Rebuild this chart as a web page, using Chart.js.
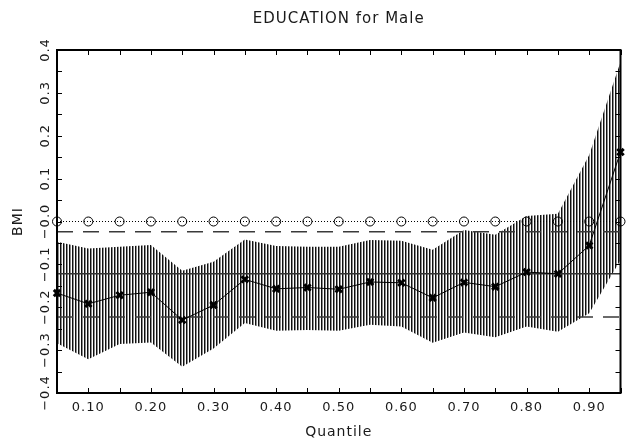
<!DOCTYPE html>
<html>
<head>
<meta charset="utf-8">
<script src="https://cdn.jsdelivr.net/npm/chart.js@4/dist/chart.umd.min.js"></script>
<style>
  html, body { margin: 0; padding: 0; background: #fff; }
  #wrap { width: 628px; height: 441px; }
</style>
</head>
<body>
<div id="wrap"><canvas id="qrChart"></canvas></div>
<script>
// quantiles and estimates
const quantiles = [0.05, 0.10, 0.15, 0.20, 0.25, 0.30, 0.35, 0.40, 0.45, 0.50,
	0.55, 0.60, 0.65, 0.70, 0.75, 0.80, 0.85, 0.90, 0.95];
const estimate = [-0.167, -0.192, -0.172, -0.165, -0.230, -0.195, -0.135, -0.157, -0.154, -0.158,
	-0.141, -0.143, -0.178, -0.142, -0.152, -0.118, -0.122, -0.056, 0.162];
const upperCI = [-0.047, -0.063, -0.059, -0.055, -0.115, -0.094, -0.042, -0.057, -0.059, -0.059,
	-0.043, -0.045, -0.066, -0.020, -0.031, 0.013, 0.018, 0.155, 0.372];
const lowerCI = [-0.284, -0.321, -0.286, -0.282, -0.339, -0.296, -0.237, -0.255, -0.253, -0.255,
	-0.241, -0.245, -0.283, -0.259, -0.270, -0.245, -0.257, -0.214, -0.090];
const zeroLine = [0, 0, 0, 0, 0, 0, 0, 0, 0, 0, 0, 0, 0, 0, 0, 0, 0, 0, 0];
// OLS estimate and its bounds
const olsEstimate = -0.122;
const olsLower = -0.223;
const olsUpper = -0.024;
const yTicks = [0.4, 0.3, 0.2, 0.1, 0.0, -0.1, -0.2, -0.3, -0.4];
const yTickLabels = ['0.4', '0.3', '0.2', '0.1', '\u22120.0', '\u22120.1', '\u22120.2', '\u22120.3', '\u22120.4'];
const chartTitle = 'EDUCATION for Male';

const FONT = "'DejaVu Sans', sans-serif";
const INK = '#1a1a1a';

function toPoints(ys) {
	return quantiles.map((q, i) => ({ x: q, y: ys[i] }));
}
function flatLine(v) {
	return [{ x: quantiles[0], y: v }, { x: quantiles[quantiles.length - 1], y: v }];
}

// vertical hatching for the confidence band
function makeHatch() {
	const c = document.createElement('canvas');
	c.width = 3; c.height = 4;
	const g = c.getContext('2d');
	g.fillStyle = '#ffffff'; g.fillRect(0, 0, 3, 4);
	g.fillStyle = '#101010'; g.fillRect(0, 0, 1, 4);
	g.fillStyle = '#8c8c8c'; g.fillRect(1, 0, 1, 4);
	return g.createPattern(c, 'repeat');
}

const frameTicks = {
	id: 'frameTicks',
	beforeDraw(chart) {
		chart.ctx.letterSpacing = '1px';
	},
	afterDraw(chart) {
		const { ctx, chartArea: a } = chart;
		const xs = chart.scales.x, ys = chart.scales.y;
		ctx.save();
		ctx.strokeStyle = '#000';
		ctx.lineWidth = 1;
		const tl = 5;
		ctx.beginPath();
		xs.ticks.forEach(t => {
			const px = Math.round(xs.getPixelForValue(t.value)) + 0.5;
			ctx.moveTo(px, a.bottom); ctx.lineTo(px, a.bottom - tl);
			ctx.moveTo(px, a.top); ctx.lineTo(px, a.top + tl);
		});
		ys.ticks.forEach(t => {
			const py = Math.round(ys.getPixelForValue(t.value)) + 0.5;
			ctx.moveTo(a.left, py); ctx.lineTo(a.left + tl, py);
			ctx.moveTo(a.right, py); ctx.lineTo(a.right - tl, py);
		});
		ctx.stroke();
		ctx.lineWidth = 2;
		ctx.strokeRect(a.left, a.top, a.right - a.left, a.bottom - a.top);

		ctx.fillStyle = INK;
		ctx.letterSpacing = '1px';
		ctx.textAlign = 'center';
		ctx.textBaseline = 'middle';

		// title centred over the plot area
		ctx.font = '15px ' + FONT;
		ctx.fillText(chartTitle, (a.left + a.right) / 2, 19);

		// rotated y tick labels
		ctx.font = '13px ' + FONT;
		yTicks.forEach((v, i) => {
			const py = ys.getPixelForValue(v);
			ctx.save();
			ctx.translate(a.left - 11, py);
			ctx.rotate(-Math.PI / 2);
			ctx.fillText(yTickLabels[i], 0, 0);
			ctx.restore();
		});
		ctx.restore();
	}
};

const ctx = document.getElementById('qrChart');
new Chart(ctx, {
	type: 'line',
	data: {
		datasets: [
			{
				label: 'lower',
				data: toPoints(lowerCI),
				borderWidth: 0,
				pointRadius: 0,
				fill: false,
				order: 10,
			},
			{
				label: 'upper',
				data: toPoints(upperCI),
				borderWidth: 0,
				pointRadius: 0,
				fill: '-1',
				backgroundColor: makeHatch(),
				order: 9,
			},
			{
				label: 'zero',
				data: toPoints(zeroLine),
				borderColor: '#000',
				borderWidth: 1,
				borderDash: [1, 2],
				pointStyle: 'circle',
				pointRadius: 4.5,
				pointBorderWidth: 1,
				pointBorderColor: '#000',
				pointBackgroundColor: 'rgba(0,0,0,0)',
				clip: false,
				order: 3,
			},
			{
				label: 'ols',
				data: flatLine(olsEstimate),
				borderColor: '#333',
				borderWidth: 1.5,
				pointRadius: 0,
				order: 4,
			},
			{
				label: 'olsLow',
				data: flatLine(olsLower),
				borderColor: '#3a3a3a',
				borderWidth: 1.5,
				borderDash: [16, 10],
				pointRadius: 0,
				order: 4,
			},
			{
				label: 'olsHigh',
				data: flatLine(olsUpper),
				borderColor: '#3a3a3a',
				borderWidth: 1.5,
				borderDash: [16, 10],
				pointRadius: 0,
				order: 4,
			},
			{
				label: 'estimate',
				data: toPoints(estimate),
				borderColor: '#000',
				borderWidth: 1,
				pointStyle: 'crossRot',
				pointRadius: 4.5,
				pointBorderWidth: 3,
				pointBorderColor: '#000',
				clip: false,
				order: 1,
			},
		]
	},
	options: {
		responsive: true,
		maintainAspectRatio: false,
		animation: false,
		events: [],
		layout: { padding: { left: 0, right: 1, top: 50, bottom: 0 } },
		plugins: {
			legend: { display: false },
			tooltip: { enabled: false },
			title: { display: false },
		},
		scales: {
			x: {
				type: 'linear',
				min: 0.05,
				max: 0.95,
				border: { display: false },
				grid: { display: false, drawTicks: false },
				ticks: {
					stepSize: 0.05,
					autoSkip: false,
					maxRotation: 0,
					padding: 7,
					color: INK,
					font: { family: FONT, size: 13 },
					callback: (v) => {
						const k = Math.round(v * 100);
						return (k % 10 === 0 && k >= 10 && k <= 90) ? (k / 100).toFixed(2) : '';
					},
				},
				title: {
					display: true,
					text: 'Quantile',
					color: INK,
					font: { family: FONT, size: 14 },
					padding: { top: 4, bottom: 0 },
				},
				afterFit: (s) => { s.height = 48; },
			},
			y: {
				type: 'linear',
				min: -0.4,
				max: 0.4,
				border: { display: false },
				grid: { display: false, drawTicks: false },
				ticks: { stepSize: 0.05, display: false },
				title: {
					display: true,
					text: 'BMI',
					color: INK,
					font: { family: FONT, size: 14 },
					padding: { top: 10, bottom: 0 },
				},
				afterFit: (s) => { s.width = 57; },
			},
		},
	},
	plugins: [frameTicks],
});
</script>
</body>
</html>
